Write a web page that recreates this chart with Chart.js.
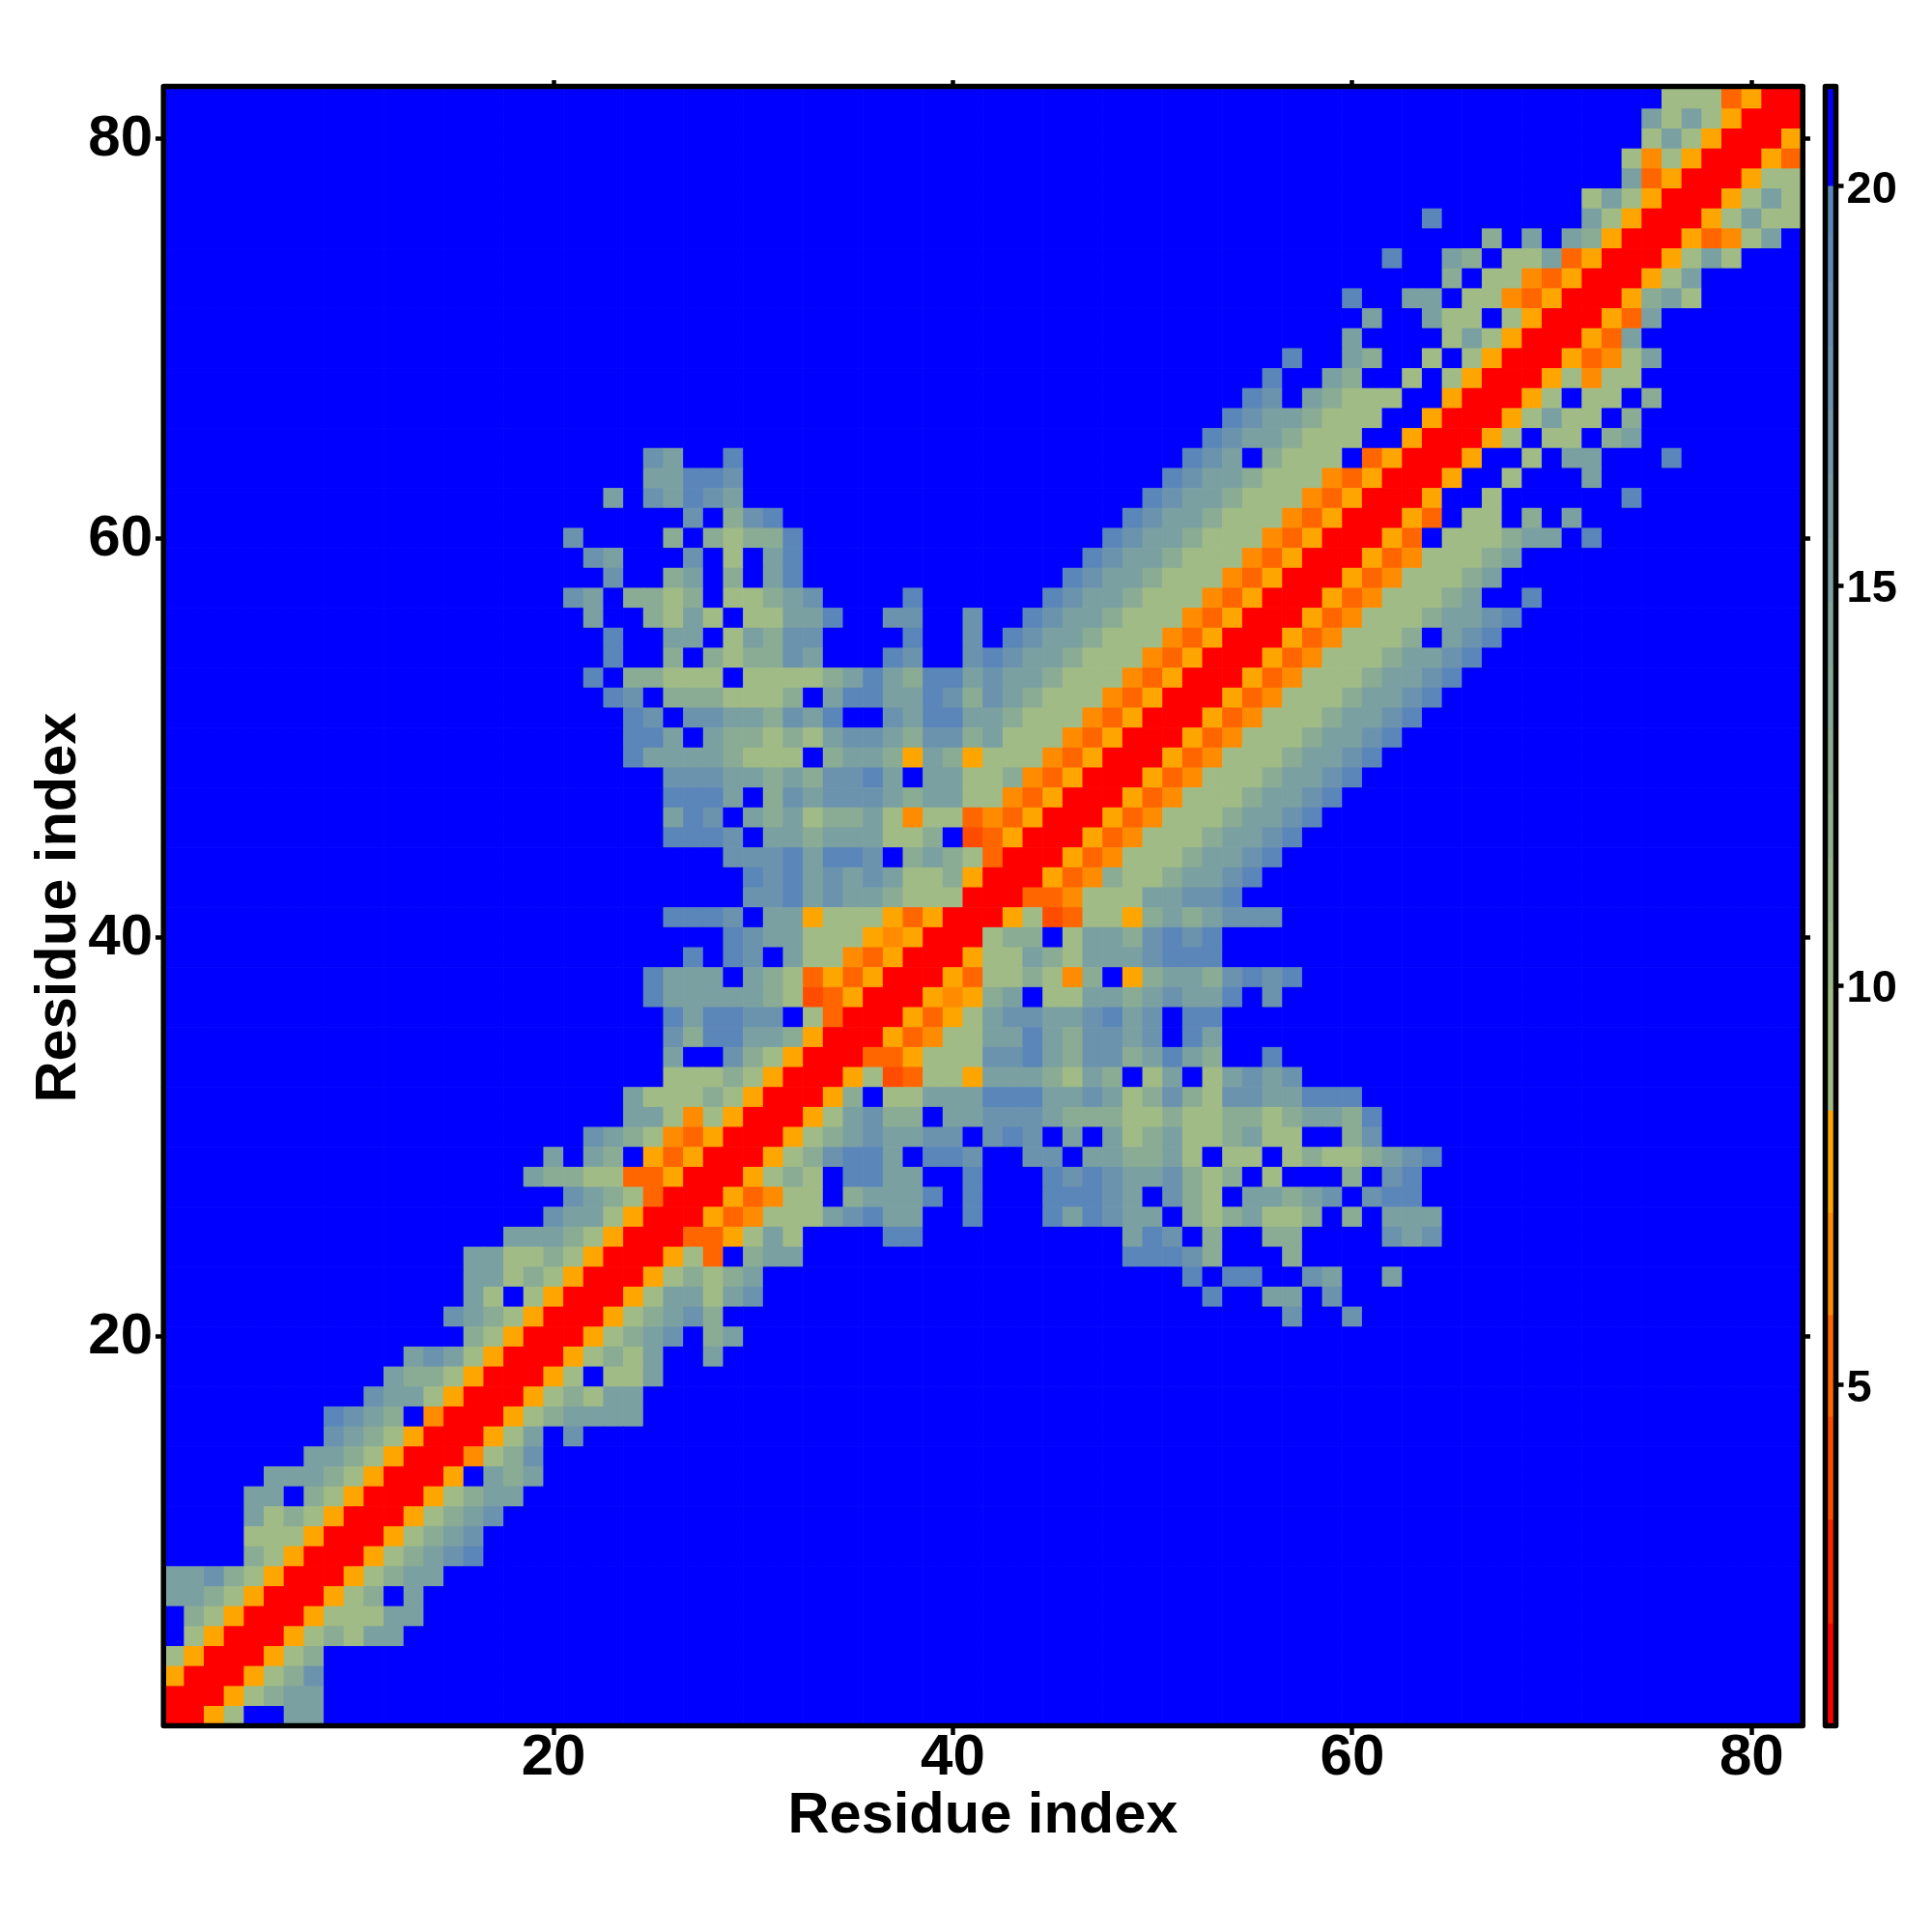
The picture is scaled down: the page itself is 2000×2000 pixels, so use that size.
<!DOCTYPE html>
<html>
<head>
<meta charset="utf-8">
<style>
html,body{margin:0;padding:0;background:#fff;}
#wrap{position:relative;width:2000px;height:2000px;background:#fff;}
#main{position:absolute;left:0;top:0;}
#bar{position:absolute;left:1870px;top:0;}
</style>
<script src="https://cdn.jsdelivr.net/npm/chart.js@4"></script>
</head>
<body>
<div id="wrap">
<canvas id="main" width="2000" height="2000"></canvas>
<canvas id="bar" width="130" height="2000"></canvas>
</div>
<script>
// Symmetric distance map: one string per residue row, right-aligned on the diagonal.
// Letters are distance classes, '.' is beyond the scale, a number is a run of '.' cells.
const upperRows = [
"R","RR","ARR","gARR","gARR","hgARR","iihgARR","iijhgARR","hgARR","gggARR",
"ighgARR","ii.hgARR","iiihgARR","iihgARR","jihgARR","kjih.BRR","jiigARR","ihhgARR","ijigARR","hgARR",
"jihgARR","ig.gARR","iighgARR","iigghgARR","iiihgARR","jiigARR","jihgCRR","ihhggCCARR","i.ih.ACARR","jihgBCARR",
"iigBgARR","iggghgARR","ggghgARR","i..jhgARR","jhkkiihARR","kikkjj.gCRR","kiiiiihgDCARR","kiii.ihgCACARR","k.kj.iggBCARR","kjiigggABARR",
"kkkj.iiAgggACARR","jjkijiihgggRR","kjkijijigghARR","jjjkikkj.hihgCRR","kkkj.iihiiiggh.DCARR","ikj.ihighhigBggCBCARR","kkki.hjijjjihiiggBCARR","jjjiihihjjki.iigghBCARR",
"kiiiihggg.hiihAihAgggBCARR","kki.ihhghgijjihjjhigggBCARR",
"kj.jjiihjik..jikkiihgggBCARR","kj.hhhgggh.ikkiikjhjihgggBCARR","k.hhggg.gggghikihkkijiihgggBCARR","k..h.hghhji3kj..jkjiihgggBCARR","k..ii.gihjj4k..j.kjiihgggBCARR",
"i..hgig.ggiik..jj..j..kjiihgggBCARR","ji.hhgh.gghij4k6kjiihgggBCARR","j..hi.h.ik13kjiihgggBCARR","ji...j.g.ik14kjiihgggBCARR","j....h.hghhk15kjiihgggBCARR",
"j.hjk17kjiihgggBCARR","i.jikji20kjiihgggBCARR","iikkj21kjiihgggBCARR","ji..k22kji.hggg.CARR",
"kjiihggg..ARR","kjiihggg..ARR","kj.ihggg..ARR","k..ih..g.gARR","k..ih..g.gARR","i4gigARR",
"i..igg.gARR","k..ii.ggBCARR","h.ggBCARR","k..ih.ggiCARR","h.i.ihARR","k7igARR","gigARR","iCARR","gBgARR","gigARR","igigARR","gggCARR"
];
const classCodes  = ["R","D","C","B","A","g","h","i","j","k","."];
const classValues = [1.4,3.9,5.2,6.5,7.8,10,13,15.5,17.5,19.8,21];

const axisTicks = [20,40,60,80];
const colorbarTicks = [5,10,15,20];
const axisTitle = "Residue index";

// Colour scale
const stepBreaks = [0.73,2.01,3.31,4.6,5.87,7.15,8.43];
const stepColors = ["#ff0000","#ff2400","#ff4c00","#ff6600","#ff8c00","#ffa500"];
const rampValues = [8.43,10,13,15.5,17.5,20];
const rampColors = [[160,187,134],[160,187,134],[138,171,148],[123,160,162],[108,147,174],[90,133,187]];
const overColor = "#0000ff";
const barBreaks = [0.73,2.01,3.31,4.6,5.87,7.15,8.43,9.2,10,10.8,11.6,12.4,13.2,14,14.8,15.6,16.4,17.2,18,18.8,19.4,20,21.22];

function colorFor(v){
  if(v>=20) return overColor;
  if(v<8.43){
    for(let i=0;i<stepColors.length;i++) if(v<stepBreaks[i+1]) return stepColors[i];
    return stepColors[stepColors.length-1];
  }
  for(let i=0;i<rampValues.length-1;i++){
    if(v<=rampValues[i+1]){
      const t=(v-rampValues[i])/(rampValues[i+1]-rampValues[i]);
      const a=rampColors[i],b=rampColors[i+1];
      return "rgb("+a.map((c,k)=>Math.round(c+(b[k]-c)*t)).join(",")+")";
    }
  }
  return overColor;
}

const N = upperRows.length;
const decoded = upperRows.map(s=>s.replace(/\d+/g,n=>".".repeat(+n)));
function cellValue(col,row){
  const hi=Math.max(col,row), lo=Math.min(col,row);
  const s=decoded[hi-1];
  const p=s.length-1-(hi-lo);
  const code=p>=0?s[p]:".";
  return classValues[classCodes.indexOf(code)];
}

const labels=[];
for(let i=1;i<=N;i++) labels.push(i);

const datasets=[];
for(let row=1;row<=N;row++){
  const data=[],bg=[];
  for(let col=1;col<=N;col++){
    data.push([row-0.5,row+0.5]);
    bg.push(colorFor(cellValue(col,row)));
  }
  datasets.push({data,backgroundColor:bg,borderWidth:0,grouped:false,barPercentage:1,categoryPercentage:1});
}

const frameFor=(dl,dt,dr,db)=>({id:"frame",afterDatasetsDraw(c){
  const a=c.chartArea,x=c.ctx;
  x.save();x.strokeStyle="#000";x.lineWidth=5.5;x.lineJoin="round";
  x.strokeRect(a.left+dl,a.top+dt,a.right-a.left-dl+dr,a.bottom-a.top-dt+db);
  x.restore();
}});
const keepAxis=s=>{s.ticks=s.ticks.filter(t=>axisTicks.includes(t.value));};
const keepAxisCat=s=>{s.ticks=s.ticks.filter(t=>axisTicks.includes(t.value+1));};
const keepBar=s=>{s.ticks=s.ticks.filter(t=>colorbarTicks.includes(t.value));};
const font={family:"'Liberation Sans'",weight:"bold",size:60};
const titleFont={family:"'Liberation Sans'",weight:"bold",size:59.6};
const tickGrid={drawOnChartArea:false,drawTicks:true,tickLength:9,tickWidth:4.5,tickColor:"#000",offset:false};

new Chart(document.getElementById("main"),{
  type:"bar",
  data:{labels,datasets},
  plugins:[frameFor(-0.75,-2.5,1.25,-0.5)],
  options:{
    responsive:false,animation:false,events:[],
    layout:{autoPadding:false,padding:0},
    plugins:{legend:{display:false},tooltip:{enabled:false}},
    scales:{
      x:{type:"category",position:"bottom",offset:true,
        grid:tickGrid,border:{display:false},
        ticks:{autoSkip:false,maxRotation:0,minRotation:0,color:"#000",font,padding:-12,
          callback(v){return String(labels[v]);}},
        title:{display:true,text:axisTitle,color:"#000",font:titleFont,padding:{top:0,bottom:84}},
        afterBuildTicks:keepAxisCat,afterFit:s=>{s.height=213;}},
      x2:{type:"linear",position:"top",min:0.5,max:82.5,offset:false,
        grid:tickGrid,border:{display:false},
        ticks:{display:false,stepSize:20,autoSkip:false,includeBounds:false},
        afterBuildTicks:keepAxis,afterFit:s=>{s.height=92;}},
      y:{type:"linear",position:"left",min:0.5,max:82.5,
        grid:tickGrid,border:{display:false},
        ticks:{stepSize:20,autoSkip:false,includeBounds:false,color:"#000",font,padding:3,labelOffset:1,callback(v){return String(v);}},
        title:{display:true,text:axisTitle,color:"#000",font:titleFont,padding:{top:25.5,bottom:0}},
        afterBuildTicks:keepAxis,afterFit:s=>{s.width=170;}},
      y2:{type:"linear",position:"right",min:0.5,max:82.5,
        grid:tickGrid,border:{display:false},
        ticks:{display:false,stepSize:20,autoSkip:false,includeBounds:false},
        afterBuildTicks:keepAxis,afterFit:s=>{s.width=135;}}
    }
  }
});

const barSets=[];
for(let i=0;i<barBreaks.length-1;i++){
  const mid=(barBreaks[i]+barBreaks[i+1])/2;
  barSets.push({data:[[barBreaks[i],barBreaks[i+1]]],backgroundColor:colorFor(mid),borderWidth:0,grouped:false,barPercentage:1,categoryPercentage:1});
}
new Chart(document.getElementById("bar"),{
  type:"bar",
  data:{labels:["scale"],datasets:barSets},
  plugins:[frameFor(0,-2.5,0,-0.5)],
  options:{
    responsive:false,animation:false,events:[],
    layout:{autoPadding:false,padding:{left:19.5,top:92,bottom:213,right:0}},
    plugins:{legend:{display:false},tooltip:{enabled:false}},
    scales:{
      x:{display:false},
      y:{type:"linear",position:"right",min:0.73,max:21.22,
        grid:{drawOnChartArea:false,drawTicks:true,tickLength:8,tickWidth:4.5,tickColor:"#000"},border:{display:false},
        ticks:{stepSize:5,autoSkip:false,includeBounds:false,color:"#000",font:{family:"'Liberation Sans'",weight:"bold",size:47},padding:3,labelOffset:4,callback(v){return String(v);}},
        afterBuildTicks:keepBar,afterFit:s=>{s.width=99.5;}}
    }
  }
});
</script>
</body>
</html>
